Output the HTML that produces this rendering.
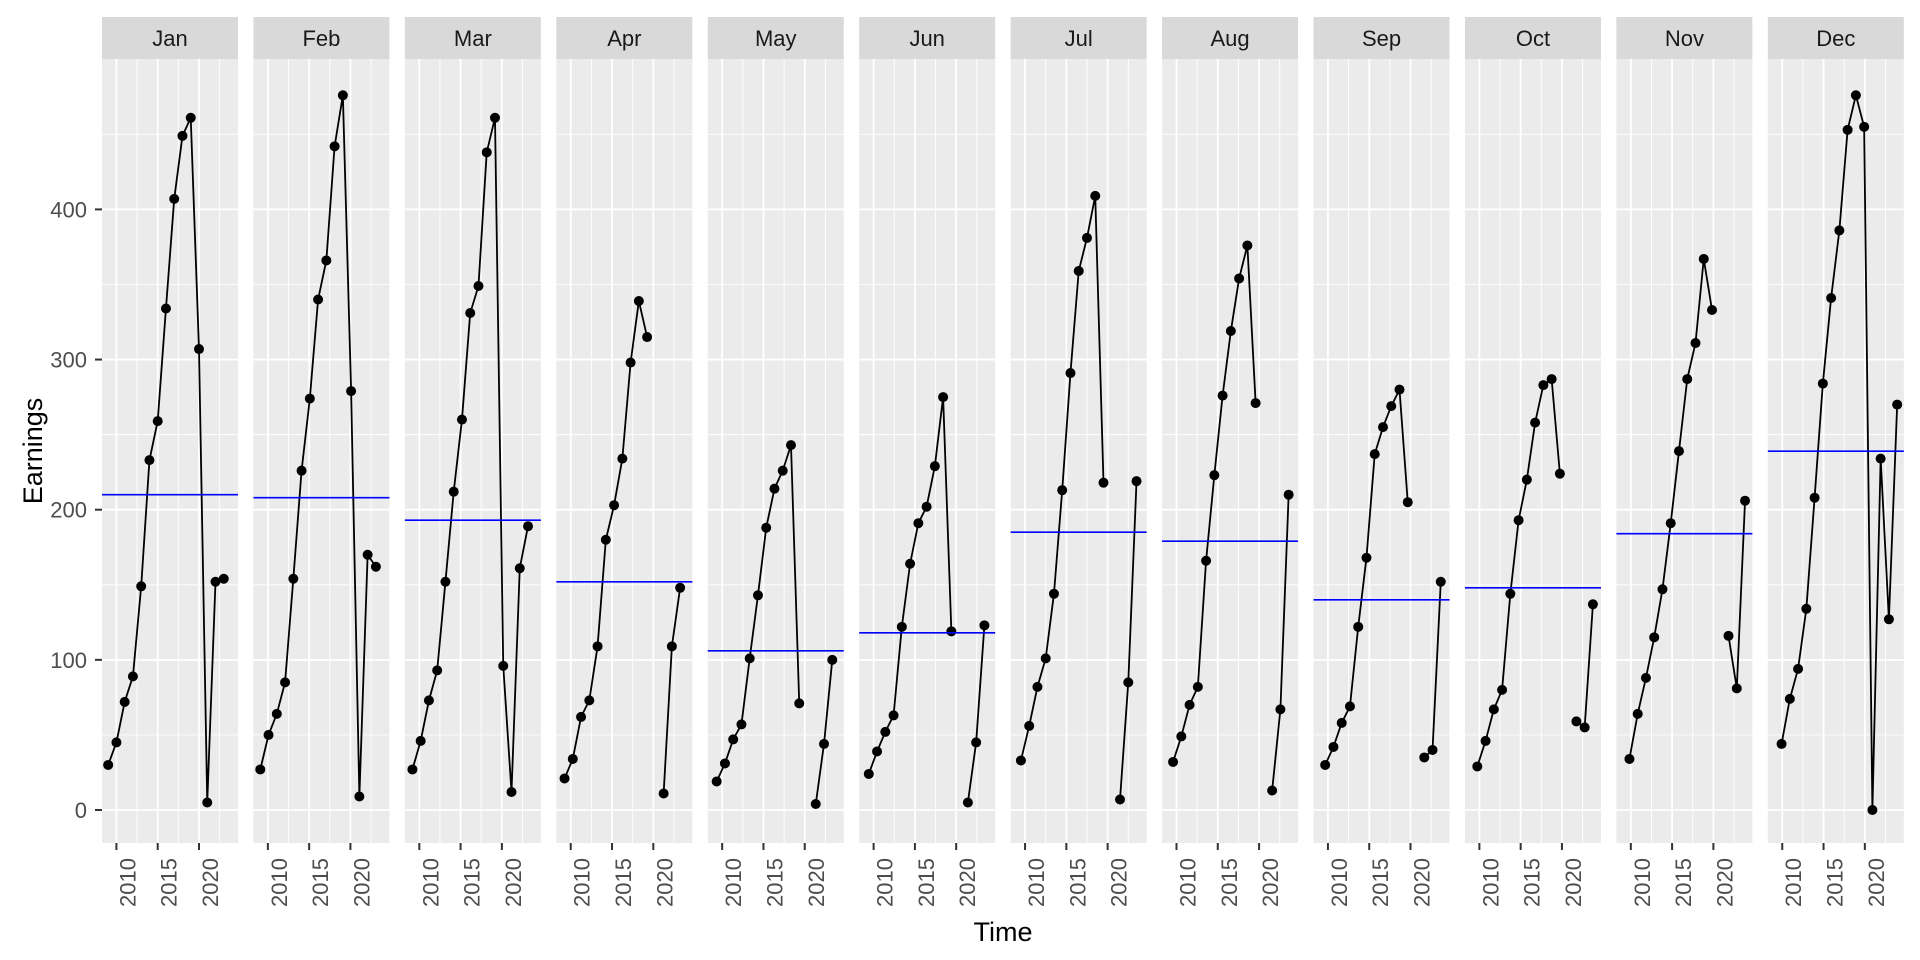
<!DOCTYPE html>
<html><head><meta charset="utf-8"><style>
html,body{margin:0;padding:0;background:#fff;}
svg{display:block;font-family:"Liberation Sans",Arial,sans-serif;}
.tx{font-size:22px;fill:#4d4d4d;}
.st{font-size:22px;fill:#1a1a1a;text-anchor:middle;}
</style></head><body>
<svg id="s" width="1920" height="960" viewBox="0 0 1920 960" xmlns="http://www.w3.org/2000/svg">
<g id="data"></g>
<g class="tx" text-anchor="end">
<text x="87" y="818">0</text>
<text x="87" y="667.8">100</text>
<text x="87" y="517.7">200</text>
<text x="87" y="367.5">300</text>
<text x="87" y="217.4">400</text>
</g>
<g stroke="#333" stroke-width="2">
<line x1="95" x2="102" y1="810" y2="810"/><line x1="95" x2="102" y1="659.85" y2="659.85"/><line x1="95" x2="102" y1="509.7" y2="509.7"/><line x1="95" x2="102" y1="359.55" y2="359.55"/><line x1="95" x2="102" y1="209.4" y2="209.4"/>
</g>
<g transform="translate(102,0)"><text class="st" x="68" y="46">Jan</text><g class="tx" text-anchor="end"><text transform="translate(33.4,858) rotate(-90)">2010</text><text transform="translate(74.7,858) rotate(-90)">2015</text><text transform="translate(116,858) rotate(-90)">2020</text></g></g>
<g transform="translate(253.44,0)"><text class="st" x="68" y="46">Feb</text><g class="tx" text-anchor="end"><text transform="translate(33.4,858) rotate(-90)">2010</text><text transform="translate(74.7,858) rotate(-90)">2015</text><text transform="translate(116,858) rotate(-90)">2020</text></g></g>
<g transform="translate(404.88,0)"><text class="st" x="68" y="46">Mar</text><g class="tx" text-anchor="end"><text transform="translate(33.4,858) rotate(-90)">2010</text><text transform="translate(74.7,858) rotate(-90)">2015</text><text transform="translate(116,858) rotate(-90)">2020</text></g></g>
<g transform="translate(556.32,0)"><text class="st" x="68" y="46">Apr</text><g class="tx" text-anchor="end"><text transform="translate(33.4,858) rotate(-90)">2010</text><text transform="translate(74.7,858) rotate(-90)">2015</text><text transform="translate(116,858) rotate(-90)">2020</text></g></g>
<g transform="translate(707.76,0)"><text class="st" x="68" y="46">May</text><g class="tx" text-anchor="end"><text transform="translate(33.4,858) rotate(-90)">2010</text><text transform="translate(74.7,858) rotate(-90)">2015</text><text transform="translate(116,858) rotate(-90)">2020</text></g></g>
<g transform="translate(859.2,0)"><text class="st" x="68" y="46">Jun</text><g class="tx" text-anchor="end"><text transform="translate(33.4,858) rotate(-90)">2010</text><text transform="translate(74.7,858) rotate(-90)">2015</text><text transform="translate(116,858) rotate(-90)">2020</text></g></g>
<g transform="translate(1010.64,0)"><text class="st" x="68" y="46">Jul</text><g class="tx" text-anchor="end"><text transform="translate(33.4,858) rotate(-90)">2010</text><text transform="translate(74.7,858) rotate(-90)">2015</text><text transform="translate(116,858) rotate(-90)">2020</text></g></g>
<g transform="translate(1162.08,0)"><text class="st" x="68" y="46">Aug</text><g class="tx" text-anchor="end"><text transform="translate(33.4,858) rotate(-90)">2010</text><text transform="translate(74.7,858) rotate(-90)">2015</text><text transform="translate(116,858) rotate(-90)">2020</text></g></g>
<g transform="translate(1313.52,0)"><text class="st" x="68" y="46">Sep</text><g class="tx" text-anchor="end"><text transform="translate(33.4,858) rotate(-90)">2010</text><text transform="translate(74.7,858) rotate(-90)">2015</text><text transform="translate(116,858) rotate(-90)">2020</text></g></g>
<g transform="translate(1464.96,0)"><text class="st" x="68" y="46">Oct</text><g class="tx" text-anchor="end"><text transform="translate(33.4,858) rotate(-90)">2010</text><text transform="translate(74.7,858) rotate(-90)">2015</text><text transform="translate(116,858) rotate(-90)">2020</text></g></g>
<g transform="translate(1616.4,0)"><text class="st" x="68" y="46">Nov</text><g class="tx" text-anchor="end"><text transform="translate(33.4,858) rotate(-90)">2010</text><text transform="translate(74.7,858) rotate(-90)">2015</text><text transform="translate(116,858) rotate(-90)">2020</text></g></g>
<g transform="translate(1767.84,0)"><text class="st" x="68" y="46">Dec</text><g class="tx" text-anchor="end"><text transform="translate(33.4,858) rotate(-90)">2010</text><text transform="translate(74.7,858) rotate(-90)">2015</text><text transform="translate(116,858) rotate(-90)">2020</text></g></g>
<text x="1003" y="941" text-anchor="middle" font-size="27" fill="#000">Time</text>
<text transform="translate(42,451) rotate(-90)" text-anchor="middle" font-size="27" fill="#000">Earnings</text>
</svg>
<script>
var D=[
[30,45,72,89,149,233,259,334,407,449,461,307,5,152,154,210],
[27,50,64,85,154,226,274,340,366,442,476,279,9,170,162,208],
[27,46,73,93,152,212,260,331,349,438,461,96,12,161,189,193],
[21,34,62,73,109,180,203,234,298,339,315,null,11,109,148,152],
[19,31,47,57,101,143,188,214,226,243,71,null,4,44,100,106],
[24,39,52,63,122,164,191,202,229,275,119,null,5,45,123,118],
[33,56,82,101,144,213,291,359,381,409,218,null,7,85,219,185],
[32,49,70,82,166,223,276,319,354,376,271,null,13,67,210,179],
[30,42,58,69,122,168,237,255,269,280,205,null,35,40,152,140],
[29,46,67,80,144,193,220,258,283,287,224,null,59,55,137,148],
[34,64,88,115,147,191,239,287,311,367,333,null,116,81,206,184],
[44,74,94,134,208,284,341,386,453,476,455,0,234,127,270,239]];
var g=document.getElementById('data'),h='';
function Y(v){return 810-v*1.5015;}
for(var i=0;i<12;i++){
 var L=102+151.44*i,W=136;
 function X(t){return L+(t-2008.254)*8.257;}
 h+='<rect x="'+L+'" y="17" width="'+W+'" height="42" fill="#d9d9d9"/>';
 h+='<rect x="'+L+'" y="59" width="'+W+'" height="784" fill="#ebebeb"/>';
 [50,150,250,350,450].forEach(function(v){h+='<line x1="'+L+'" x2="'+(L+W)+'" y1="'+Y(v)+'" y2="'+Y(v)+'" stroke="#fff" stroke-width="0.9"/>';});
 [2012.5,2017.5,2022.5].forEach(function(t){h+='<line x1="'+X(t)+'" x2="'+X(t)+'" y1="59" y2="843" stroke="#fff" stroke-width="0.9"/>';});
 [0,100,200,300,400].forEach(function(v){h+='<line x1="'+L+'" x2="'+(L+W)+'" y1="'+Y(v)+'" y2="'+Y(v)+'" stroke="#fff" stroke-width="1.8"/>';});
 [2010,2015,2020].forEach(function(t){h+='<line x1="'+X(t)+'" x2="'+X(t)+'" y1="59" y2="843" stroke="#fff" stroke-width="1.8"/>';
   h+='<line x1="'+X(t)+'" x2="'+X(t)+'" y1="843" y2="850" stroke="#333" stroke-width="2"/>';});
 var d=D[i],seg=[],pts='';
 for(var k=0;k<15;k++){var v=d[k];var t=2009+k+i/12;
  if(v===null){if(seg.length>1)h+='<polyline points="'+seg.join(' ')+'" fill="none" stroke="#000" stroke-width="1.8"/>';seg=[];continue;}
  var x=X(t).toFixed(2),y=Y(v).toFixed(2);seg.push(x+','+y);pts+='<circle cx="'+x+'" cy="'+y+'" r="5" fill="#000"/>';}
 if(seg.length>1)h+='<polyline points="'+seg.join(' ')+'" fill="none" stroke="#000" stroke-width="1.8"/>';
 h+=pts;
 h+='<line x1="'+L+'" x2="'+(L+W)+'" y1="'+Y(d[15])+'" y2="'+Y(d[15])+'" stroke="#0000ff" stroke-width="1.6"/>';
}
g.innerHTML=h;
</script>
</body></html>
